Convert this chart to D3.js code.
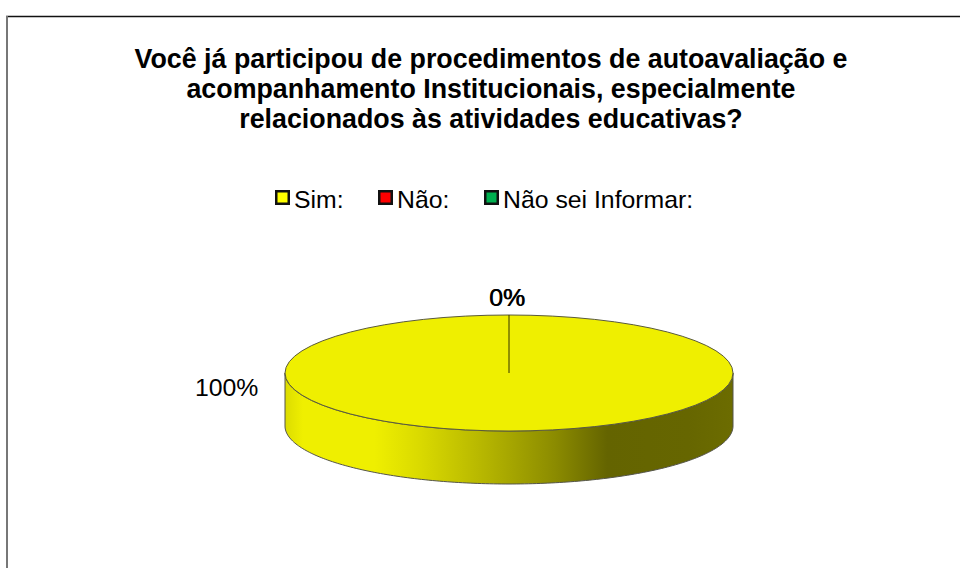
<!DOCTYPE html>
<html>
<head>
<meta charset="utf-8">
<style>
  html, body { margin: 0; padding: 0; background: #fff; overflow: hidden; }
  text { font-family: "Liberation Sans", Arial, sans-serif; fill: #000; }
</style>
<script src="https://cdn.jsdelivr.net/npm/d3@7"></script>
</head>
<body>
<div id="diagram"></div>
<script>
// data
const titleLines = [
  'Você já participou de procedimentos de autoavaliação e',
  'acompanhamento Institucionais, especialmente',
  'relacionados às atividades educativas?'
];
const categories = ['Sim:', 'Não:', 'Não sei Informar:'];
const values = [100, 0, 0];
const colors = ['#ffff00', '#ff0000', '#00b050'];

!(function () {
  'use strict';
  // head section
  const canvas = { width: 960, height: 568 };
  const pieBox = { cx: 509, cy: 373, rx: 224, ry: 58, depth: 53 };
  const topColor = '#efef00';

  const svg = d3.select('#diagram')
    .append('svg')
    .attr('width', canvas.width)
    .attr('height', canvas.height)
    .style('display', 'block');

  // frame of the chart, only top and left are visible
  svg.append('line')
    .attr('x1', 6).attr('x2', canvas.width)
    .attr('y1', 16.5).attr('y2', 16.5)
    .attr('stroke', '#111').attr('stroke-width', 1.6);
  svg.append('line')
    .attr('x1', 7).attr('x2', 7)
    .attr('y1', 16).attr('y2', canvas.height)
    .attr('stroke', '#777').attr('stroke-width', 2);

  // title
  svg.append('g')
    .selectAll('text')
    .data(titleLines)
    .enter()
    .append('text')
    .attr('x', 491)
    .attr('y', (d, i) => 68 + i * 30)
    .attr('text-anchor', 'middle')
    .style('font-size', '26.8px')
    .style('font-weight', 'bold')
    .text(d => d);

  // legend
  const legendLeft = [275, 378, 484];
  const legend = svg.append('g')
    .selectAll('g')
    .data(categories)
    .enter()
    .append('g')
    .attr('transform', (d, i) => 'translate(' + legendLeft[i] + ',190)');

  legend.append('rect')
    .attr('x', 1.25).attr('y', 1.25)
    .attr('width', 12.5).attr('height', 12.5)
    .attr('fill', (d, i) => colors[i])
    .attr('stroke', '#111')
    .attr('stroke-width', 2.5);

  legend.append('text')
    .attr('x', 19)
    .attr('y', 17.5)
    .style('font-size', '24.8px')
    .text(d => d);

  // pie
  const pie = d3.pie().sort(null).value(d => d);
  const slices = pie(values);

  // ellipse position for a pie angle (0 is at the top, clockwise)
  const ex = d3.scaleLinear().domain([-1, 1]).range([pieBox.cx - pieBox.rx, pieBox.cx + pieBox.rx]);
  const ey = d3.scaleLinear().domain([-1, 1]).range([pieBox.cy - pieBox.ry, pieBox.cy + pieBox.ry]);
  const onRim = a => [ex(Math.sin(a)), ey(-Math.cos(a))];

  const defs = svg.append('defs');
  const grad = defs.append('linearGradient')
    .attr('id', 'wall')
    .attr('gradientUnits', 'userSpaceOnUse')
    .attr('x1', ex(-1)).attr('x2', ex(1))
    .attr('y1', 0).attr('y2', 0);
  [
    [0, '#dcdc00'], [0.04, '#efef00'], [0.2, '#efef00'], [0.3, '#dada00'],
    [0.45, '#b4b400'], [0.6, '#8c8c00'], [0.72, '#646400'], [0.9, '#666600'], [1, '#6c6c00']
  ].forEach(function (s) {
    grad.append('stop').attr('offset', s[0]).attr('stop-color', s[1]);
  });

  // front half of the rim, from right to left
  const frontAngles = d3.range(0, 181).map(i => Math.PI / 2 + i * Math.PI / 180);
  const rimLine = d3.line();
  const front = frontAngles.map(onRim);
  const frontLow = front.map(p => [p[0], p[1] + pieBox.depth]);

  svg.append('path')
    .attr('d', rimLine(front.concat(frontLow.slice().reverse())) + 'Z')
    .attr('fill', 'url(#wall)')
    .attr('stroke', '#55554a')
    .attr('stroke-width', 1);

  // top face, drawn slice by slice
  const arc = d3.arc().innerRadius(0).outerRadius(pieBox.rx);
  svg.append('g')
    .attr('transform', 'translate(' + pieBox.cx + ',' + pieBox.cy + ') scale(1,' + (pieBox.ry / pieBox.rx) + ')')
    .selectAll('path')
    .data(slices.filter(d => d.value > 0))
    .enter()
    .append('path')
    .attr('d', arc)
    .attr('fill', topColor)
    .attr('stroke', '#5a5a3c')
    .attr('stroke-width', 1)
    .attr('vector-effect', 'non-scaling-stroke');

  // radial edge of the slices
  const edge = onRim(slices[0].startAngle);
  svg.append('line')
    .attr('x1', ex(0)).attr('y1', ey(0))
    .attr('x2', edge[0]).attr('y2', edge[1])
    .attr('stroke', '#333300')
    .attr('stroke-width', 1);

  // percent labels, the two empty slices land on the same spot
  const labelPos = [[195, 396], [489, 306], [489, 306]];
  svg.append('g')
    .selectAll('text')
    .data(slices)
    .enter()
    .append('text')
    .attr('x', (d, i) => labelPos[i][0] + (i === 2 ? 0.6 : 0))
    .attr('y', (d, i) => labelPos[i][1])
    .style('font-size', '24.8px')
    .text(d => d3.format('.0f')(d.value) + '%');
}());
</script>
</body>
</html>
